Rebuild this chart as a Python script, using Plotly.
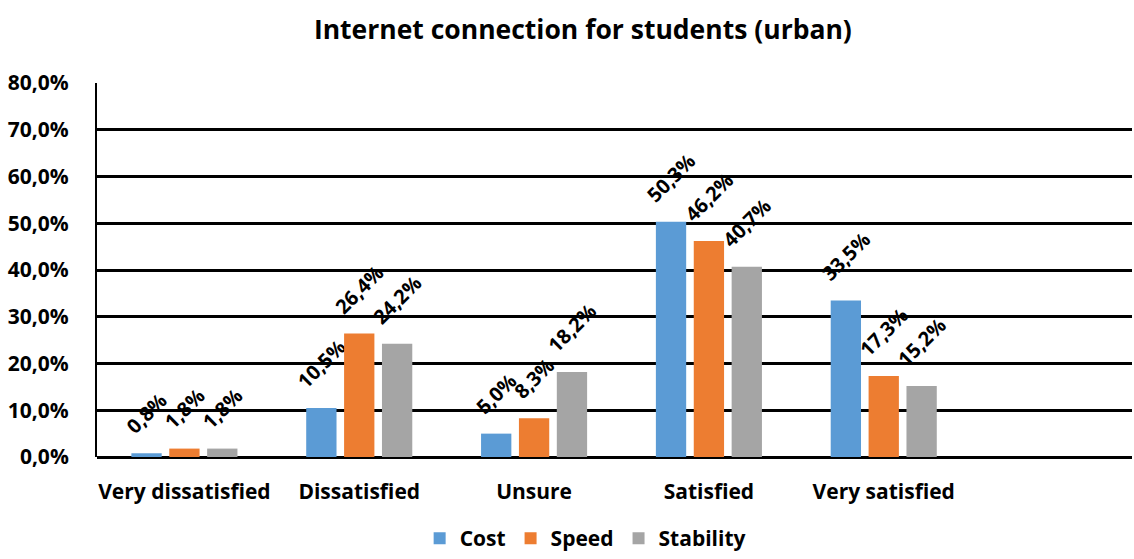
import plotly.graph_objects as go

categories = ["Very dissatisfied", "Dissatisfied", "Unsure", "Satisfied", "Very satisfied"]
cost = [0.008, 0.105, 0.050, 0.503, 0.335]
speed = [0.018, 0.264, 0.083, 0.462, 0.173]
stability = [0.018, 0.242, 0.182, 0.407, 0.152]
series_names = ["Cost", "Speed", "Stability"]
colors = ["#5B9BD5", "#ED7D31", "#A5A5A5"]

FONT = "'Open Sans', sans-serif"
PAD = "\u00a0\u00a0\u00a0"

fig = go.Figure()
for name, vals, col in zip(series_names, [cost, speed, stability], colors):
    fig.add_trace(go.Bar(
        x=categories, y=vals, name=name,
        marker=dict(color=col, line=dict(width=0)),
        texttemplate=PAD + "%{y:.1%}" + PAD, textposition="outside", textangle=-45,
        constraintext="none",
        textfont=dict(family=FONT, size=20, color="black", weight="bold"),
        cliponaxis=False,
    ))

fig.update_layout(
    width=1134, height=559,
    margin=dict(l=97, r=2, t=83, b=102, autoexpand=False),
    paper_bgcolor="white", plot_bgcolor="white",
    separators=",.",
    barmode="group", bargap=0.35, bargroupgap=0.2,
    font=dict(family=FONT, size=21, color="black", weight="bold"),
    title=dict(text="Internet connection for students (urban)", x=0.514, xanchor="center",
               y=0.946, yanchor="middle", xref="container", yref="container",
               font=dict(family=FONT, size=26.5, color="black", weight="bold")),
    xaxis=dict(range=[-0.5, 5.42], showgrid=False, showline=False, ticks="",
               automargin=False, ticklabelstandoff=20, tickfont=dict(size=21)),
    yaxis=dict(range=[0, 0.8], dtick=0.1, tickformat=".1%", showgrid=True,
               gridcolor="black", gridwidth=2.5, zeroline=True, zerolinecolor="black",
               zerolinewidth=2.5, showline=True, linecolor="black", linewidth=2,
               automargin=False, ticks="", ticklabelstandoff=22, tickfont=dict(size=21)),
    legend=dict(orientation="h", x=0.516, xanchor="center", y=0.0, yanchor="bottom",
                xref="container", yref="container",
                font=dict(size=21), itemwidth=30, traceorder="normal"),
    showlegend=True,
)

fig.write_html("out.html", config={"displayModeBar": False},
               post_script="document.body.style.margin='0';")
